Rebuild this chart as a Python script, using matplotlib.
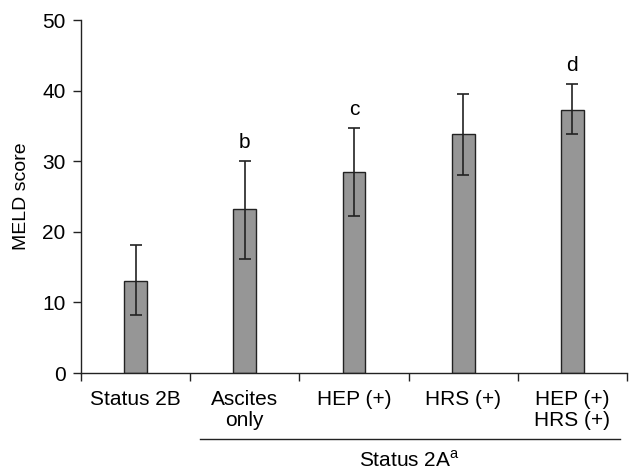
import matplotlib.pyplot as plt

plt.rcParams['font.family'] = ['Liberation Sans', 'DejaVu Sans']
plt.rcParams['mathtext.fontset'] = 'custom'
plt.rcParams['mathtext.rm'] = 'Liberation Sans'

groups = ['Status 2B', 'Ascites\nonly', 'HEP (+)', 'HRS (+)', 'HEP (+)\nHRS (+)']
meld = [13.0, 23.2, 28.5, 33.9, 37.3]
err_hi = [18.2, 30.0, 34.7, 39.5, 40.9]
err_lo = [8.2, 16.1, 22.3, 28.1, 33.9]
marks = ['', 'b', 'c', '', 'd']

fig = plt.figure(figsize=(6.33, 4.73), dpi=100)
ax = fig.add_axes([0.128, 0.2114, 0.8625, 0.7463])

pos = [i + 0.5 for i in range(len(groups))]
yerr = [[m - lo for m, lo in zip(meld, err_lo)], [hi - m for m, hi in zip(meld, err_hi)]]
ax.bar(pos, meld, width=0.21, color='#969696', edgecolor='#222222', linewidth=1.0, zorder=2)
ax.errorbar(pos, meld, yerr=yerr, fmt='none', ecolor='#222222', elinewidth=1.2,
            capsize=4.5, capthick=1.2, zorder=3)

for p, hi, m in zip(pos, err_hi, marks):
    if m:
        ax.text(p, hi + 1.3, m, ha='center', va='bottom', fontsize=15)

ax.set_xlim(0, 5)
ax.set_ylim(0, 50)
ax.set_yticks([0, 10, 20, 30, 40, 50])
ax.set_xticks(range(6))
ax.set_xticklabels([])
ax.set_xticks(pos, minor=True)
ax.set_xticklabels(groups, minor=True, fontsize=15, linespacing=1.15, va='top')
ax.tick_params(axis='x', which='minor', length=0, pad=12)
ax.tick_params(axis='x', which='major', length=6, width=1, color='#222222')
ax.tick_params(axis='y', labelsize=15, length=6, width=1, color='#222222', pad=5)
ax.set_ylabel('MELD score', fontsize=14, labelpad=9)

for s in ['top', 'right']:
    ax.spines[s].set_visible(False)
for s in ['left', 'bottom']:
    ax.spines[s].set_color('#222222')
    ax.spines[s].set_linewidth(1.0)

# bracket line under the Status 2A groups
trans = ax.get_xaxis_transform()
ax.plot([1.09, 4.94], [-0.187, -0.187], color='#222222', lw=1.0,
        transform=trans, clip_on=False)
ax.text(3.01, -0.266, 'Status 2A$^{\\rm a}$', ha='center', va='baseline',
        fontsize=15, transform=trans)

fig.savefig('out.png', dpi=100)
